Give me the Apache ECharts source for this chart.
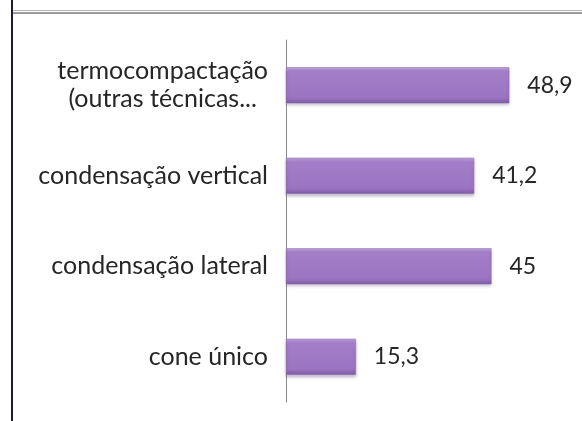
<!DOCTYPE html>
<html>
<head>
<meta charset="utf-8">
<script src="https://cdn.jsdelivr.net/npm/echarts@6/dist/echarts.min.js"></script>
<style>
  html, body { margin: 0; padding: 0; background: #fff; }
  #main { width: 582px; height: 421px; }
</style>
</head>
<body>
<div id="main"></div>
<script>
// dados do gráfico (de baixo para cima, como no eixo de categorias)
var categorias = ['cone único', 'condensação lateral', 'condensação vertical', 'termocompactação\n(outras técnicas...'];
var valores = [15.3, 45, 41.2, 48.9];
var rotulosValores = ['15,3', '45', '41,2', '48,9'];

var myChart = echarts.init(document.getElementById('main'));

var option = {
    backgroundColor: '#ffffff',
    animation: false,
    textStyle: { fontFamily: 'Lato' },
    // moldura da planilha: linha dupla em cima, linha escura à esquerda
    graphic: [
        { type: 'rect', shape: { x: 12, y: 10, width: 570, height: 1 }, style: { fill: '#b4b4b4' } },
        { type: 'rect', shape: { x: 12, y: 12, width: 570, height: 2 }, style: { fill: '#9a9a9a' } },
        { type: 'rect', shape: { x: 11, y: 0, width: 2, height: 421 }, style: { fill: '#1c1c36' } }
    ],
    grid: { left: 286, right: 22, top: 40, bottom: 19, containLabel: false },
    xAxis: {
        type: 'value',
        min: 0,
        max: 60,
        show: false
    },
    yAxis: {
        type: 'category',
        data: categorias,
        axisLine: { show: true, lineStyle: { color: '#8a8a8a', width: 1 } },
        axisTick: { show: false },
        axisLabel: {
            margin: 18,
            color: '#262626',
            fontSize: 25,
            fontFamily: 'Lato',
            lineHeight: 28,
            formatter: function (v) {
                if (v.indexOf('\n') >= 0) {
                    return v.split('\n').map(function (l) { return '{c|' + l + '}'; }).join('\n');
                }
                return v;
            },
            rich: {
                c: { align: 'center', fontSize: 25, fontFamily: 'Lato', color: '#262626', lineHeight: 28 }
            }
        },
        splitLine: { show: false }
    },
    series: [{
        type: 'bar',
        data: valores,
        barWidth: 36,
        itemStyle: {
            color: new echarts.graphic.LinearGradient(0, 0, 0, 1, [
                { offset: 0, color: '#c2a6de' },
                { offset: 0.12, color: '#a27fc8' },
                { offset: 0.85, color: '#9b74c1' },
                { offset: 1, color: '#7d5aa4' }
            ]),
            borderColor: '#8a68b0',
            borderWidth: 0.5,
            shadowColor: 'rgba(80,60,110,0.35)',
            shadowBlur: 3,
            shadowOffsetY: 2
        },
        label: {
            show: true,
            position: 'right',
            distance: 18,
            color: '#262626',
            fontSize: 23,
            fontFamily: 'Lato',
            formatter: function (p) { return rotulosValores[p.dataIndex]; }
        }
    }]
};

myChart.setOption(option);
</script>
</body>
</html>
